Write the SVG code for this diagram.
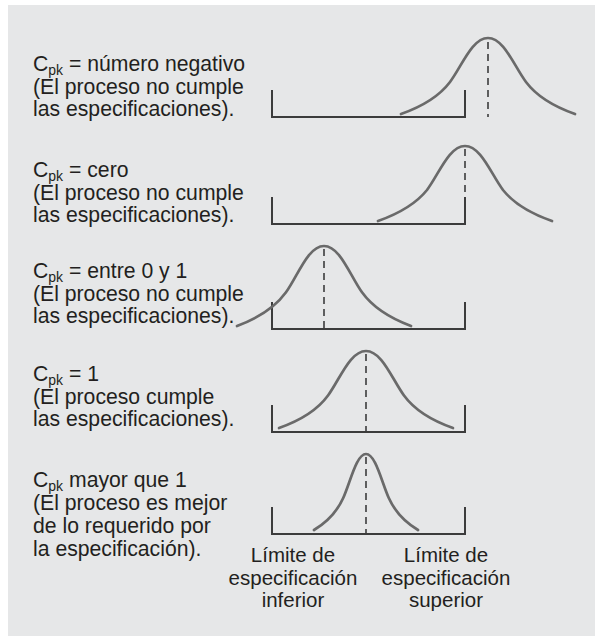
<svg xmlns="http://www.w3.org/2000/svg" width="595" height="636" viewBox="0 0 595 636">
<style>
.t{font-family:"Liberation Sans",Arial,sans-serif;font-size:21.2px;fill:#231f20}
.sub{font-size:14px}
.lbl{font-family:"Liberation Sans",Arial,sans-serif;font-size:20.5px;fill:#231f20;text-anchor:middle}
.br{fill:none;stroke:#3c3c3c;stroke-width:2}
.cv{fill:none;stroke:#6a6a6a;stroke-width:2.7;stroke-linecap:round}
.mn{fill:none;stroke:#3c3c3c;stroke-width:1.6;stroke-dasharray:7 5}
</style>
<rect x="0" y="0" width="595" height="636" fill="#ffffff"/>
<rect x="8" y="5" width="587" height="631" fill="#e6e7e8"/>

<g id="panel1">
<text class="t" x="33" y="71">C<tspan class="sub" dy="4">pk</tspan><tspan dy="-4"> = número negativo</tspan></text>
<text class="t" x="33" y="94">(El proceso no cumple</text>
<text class="t" x="33" y="116">las especificaciones).</text>
<path class="br" d="M272,90 V117 H465 V90"/>
<path class="cv" d="M401,114 C418,108 438,98 450,82 C462,66 472,38 488,38 C504,38 514,66 526,82 C538,98 558,108 575,114"/>
<path class="mn" d="M488,42 V117"/>
</g>

<g id="panel2">
<text class="t" x="33" y="177">C<tspan class="sub" dy="4">pk</tspan><tspan dy="-4"> = cero</tspan></text>
<text class="t" x="33" y="200">(El proceso no cumple</text>
<text class="t" x="33" y="222">las especificaciones).</text>
<path class="br" d="M272,197 V224 H465 V197"/>
<path class="cv" d="M378,221 C395,215 415,205 427,190 C439,174 449,146 465,146 C481,146 491,174 503,190 C515,205 535,215 552,221"/>
<path class="mn" d="M465,149 V197"/>
</g>

<g id="panel3">
<text class="t" x="33" y="278">C<tspan class="sub" dy="4">pk</tspan><tspan dy="-4"> = entre 0 y 1</tspan></text>
<text class="t" x="33" y="301">(El proceso no cumple</text>
<text class="t" x="33" y="323">las especificaciones).</text>
<path class="br" d="M272,302 V329 H465 V302"/>
<path class="cv" d="M237,326 C254,319.7 274,309 286,292.3 C298,275.5 308,246 324,246 C340,246 350,275.5 362,292.3 C374,309 394,319.7 411,326"/>
<path class="mn" d="M324,249 V329"/>
</g>

<g id="panel4">
<text class="t" x="33" y="381">C<tspan class="sub" dy="4">pk</tspan><tspan dy="-4"> = 1</tspan></text>
<text class="t" x="33" y="404">(El proceso cumple</text>
<text class="t" x="33" y="426">las especificaciones).</text>
<path class="br" d="M272,405 V432 H465 V405"/>
<path class="cv" d="M279,428 C296,422 316,412 328,395.5 C340,379 350,351 366,351 C382,351 392,379 404,395.5 C416,412 436,422 453,428"/>
<path class="mn" d="M366,354 V432"/>
</g>

<g id="panel5">
<text class="t" x="33" y="487">C<tspan class="sub" dy="4">pk</tspan><tspan dy="-4"> mayor que 1</tspan></text>
<text class="t" x="33" y="510">(El proceso es mejor</text>
<text class="t" x="33" y="533">de lo requerido por</text>
<text class="t" x="33" y="556">la especificación).</text>
<path class="br" d="M272,507 V534 H465 V507"/>
<path class="cv" d="M314,530 C324,524 336,514 343.2,498 C350.4,482 356.4,454 366,454 C375.6,454 381.6,482 388.8,498 C396,514 408,524 418,530"/>
<path class="mn" d="M366,457 V534"/>
</g>

<g id="label-lower">
<text class="lbl" x="293" y="562">Límite de</text>
<text class="lbl" x="293" y="585">especificación</text>
<text class="lbl" x="293" y="607">inferior</text>
</g>
<g id="label-upper">
<text class="lbl" x="446" y="562">Límite de</text>
<text class="lbl" x="446" y="585">especificación</text>
<text class="lbl" x="446" y="607">superior</text>
</g>
<g id="connectors"></g>
</svg>
